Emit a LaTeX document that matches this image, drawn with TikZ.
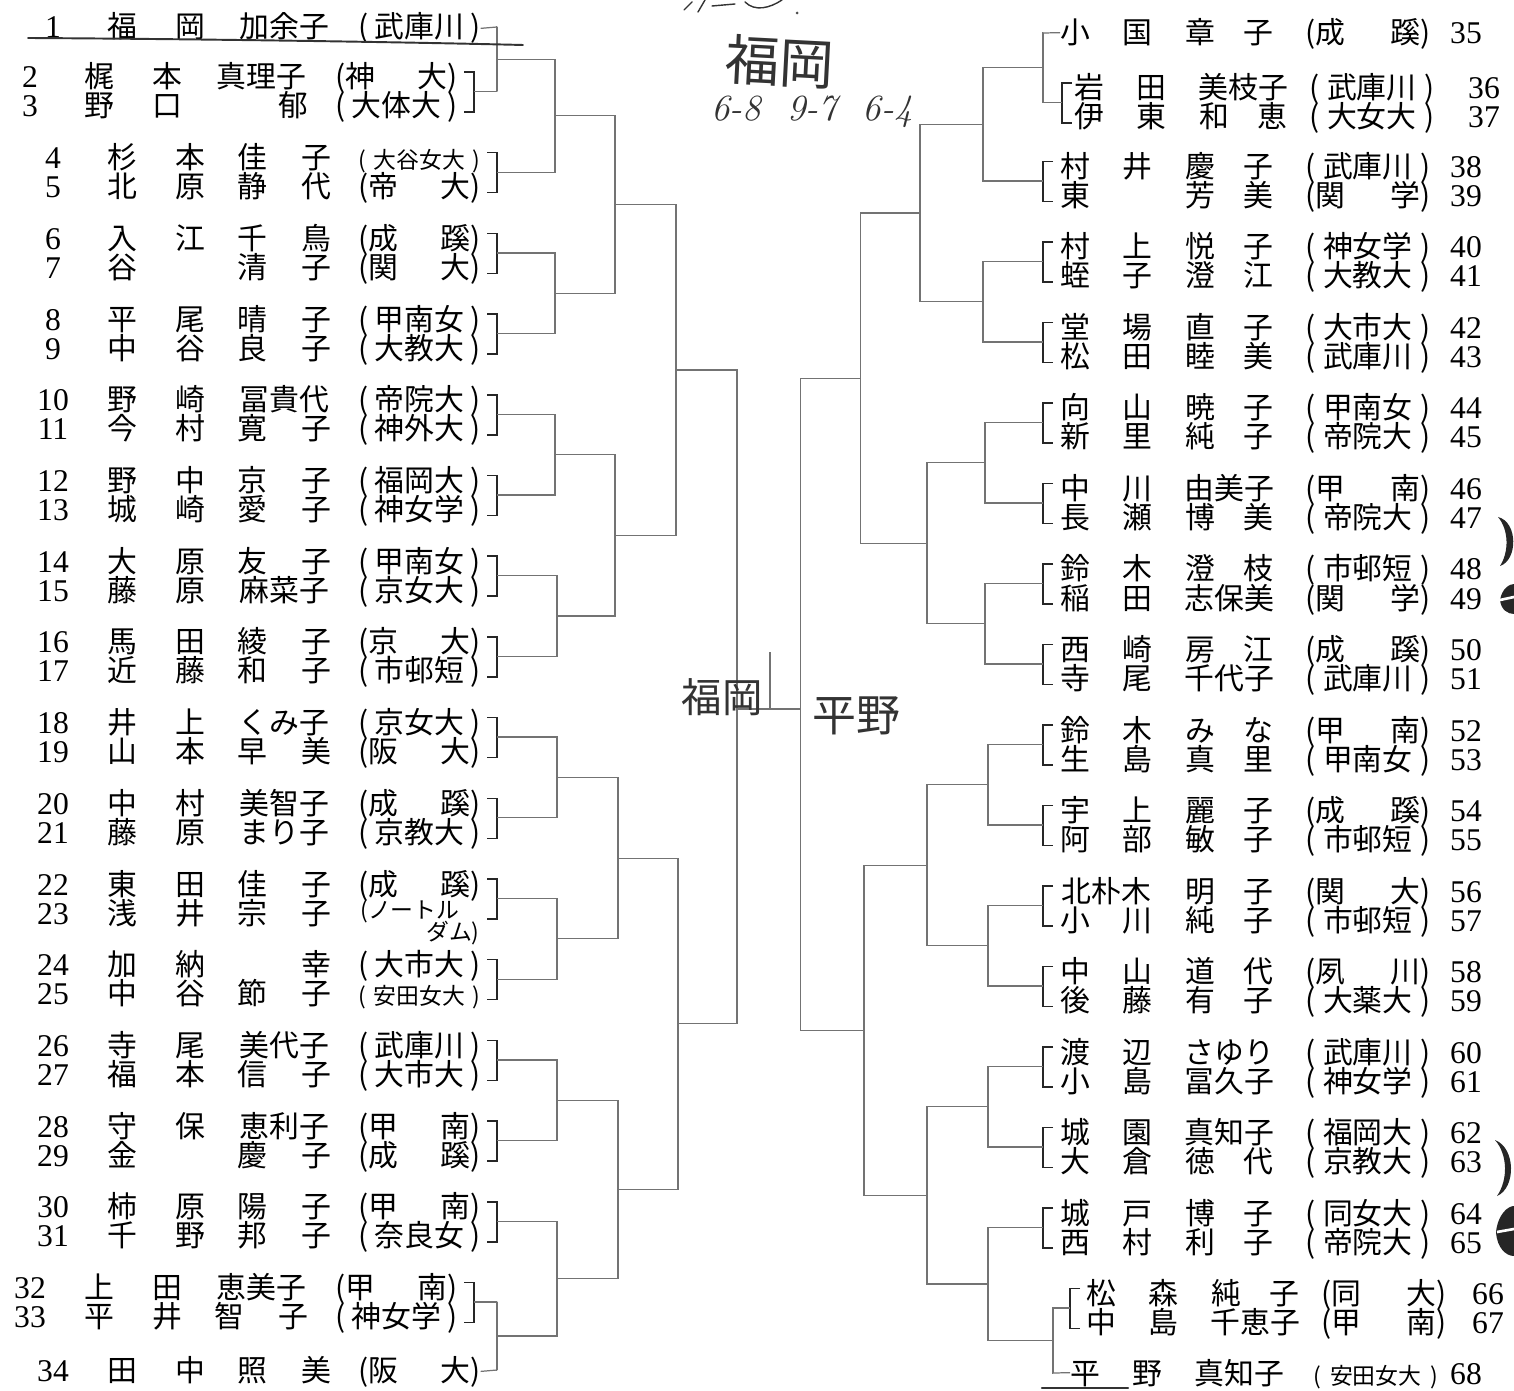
\documentclass[tikz,border=0pt]{standalone}
\usepackage{fontspec}
\newfontfamily\cjk{Noto Sans CJK JP}
\newfontfamily\numfnt{Liberation Serif}
\usetikzlibrary{calc}

\tikzset{
  bline/.style={draw=black!55, line width=0.7pt},
  pbr/.style={draw=black!85, line width=0.9pt},
  pen/.style={draw=black!80, line width=1.1pt, line cap=round},
  namebox/.style={anchor=base west, inner sep=0pt, text=black, font=\cjk\fontsize{17}{20}\selectfont},
  seedno/.style={anchor=base, inner sep=0pt, text=black, font=\numfnt\fontsize{18}{20}\selectfont},
  hand/.style={inner sep=0pt, text=black!80}
}

\newcommand{\smallaff}{\fontsize{13}{14}\selectfont}

% left entry: y, number, surname, given name, school, x shift
\newcommand{\lentry}[6]{%
  \node[seedno] (ln#2) at ({53+(#6)},{#1+11}) {#2};
  \node[namebox] (lnm#2) at ({107+(#6)},{#1+11}) {\makebox[19.6mm]{#3}\hspace{6.4mm}\makebox[18.8mm]{#4}};
  \node[namebox] (laf#2) at ({358+(#6)},{#1+11}) {\makebox[24.4mm]{#5}};
}
% right entry: y, number, surname, given name, school, name/school/number shifts
\newcommand{\rentryx}[8]{%
  \node[namebox] (rnm#2) at ({1060+(#6)},{#1+11}) {\makebox[18.4mm]{#3}\hspace{6.6mm}\makebox[17.6mm]{#4}};
  \node[namebox] (raf#2) at ({1305+(#7)},{#1+11}) {\makebox[25mm]{#5}};
  \node[seedno] (rn#2) at ({1466+(#8)},{#1+11}) {#2};
}
\newcommand{\rentry}[5]{\rentryx{#1}{#2}{#3}{#4}{#5}{0}{0}{0}}
% pair bracket: name, top row y, bracket x, junction x, tick direction
\newcommand{\pairbr}[5]{%
  \coordinate (#1) at (#4,{#2+14.5});
  \draw[pbr] ({#3-10*(#5)},{#2-5}) -| ({#3},{#2+35}) -- ++({-10*(#5)},0);
  \draw[bline] ({#3},{#2+14.5}) -- (#1);
}
% match: new junction, upper, lower, x offset
\newcommand{\tiematch}[4]{%
  \path ($(#2)!0.5!(#3)$) ++(#4,0) coordinate (#1);
  \draw[bline] (#2) -| (#1) |- (#3);
}

\begin{document}
\begin{tikzpicture}[x=0.02cm, y=-0.02cm]
\path[use as bounding box, fill=white] (0,0) rectangle (1514,1391);

% left half
\lentry{27}{1}{福\hfill 岡}{加余子}{(\hfill 武庫川\hfill )}{0}
\lentry{77}{2}{梶\hfill 本}{真理子}{(神\hfill 大)}{-23}
\lentry{106}{3}{野\hfill 口}{\hfill 郁}{(\hfill 大体大\hfill )}{-23}
\lentry{157.7}{4}{杉\hfill 本}{佳\hfill 子}{\smallaff(\hfill 大谷女大\hfill )}{0}
\lentry{186.7}{5}{北\hfill 原}{静\hfill 代}{(帝\hfill 大)}{0}
\lentry{238.4}{6}{入\hfill 江}{千\hfill 鳥}{(成\hfill 蹊)}{0}
\lentry{267.4}{7}{谷\hfill }{清\hfill 子}{(関\hfill 大)}{0}
\lentry{319.1}{8}{平\hfill 尾}{晴\hfill 子}{(\hfill 甲南女\hfill )}{0}
\lentry{348.1}{9}{中\hfill 谷}{良\hfill 子}{(\hfill 大教大\hfill )}{0}
\lentry{399.8}{10}{野\hfill 崎}{冨貴代}{(\hfill 帝院大\hfill )}{0}
\lentry{428.8}{11}{今\hfill 村}{寛\hfill 子}{(\hfill 神外大\hfill )}{0}
\lentry{480.5}{12}{野\hfill 中}{京\hfill 子}{(\hfill 福岡大\hfill )}{0}
\lentry{509.5}{13}{城\hfill 崎}{愛\hfill 子}{(\hfill 神女学\hfill )}{0}
\lentry{561.2}{14}{大\hfill 原}{友\hfill 子}{(\hfill 甲南女\hfill )}{0}
\lentry{590.2}{15}{藤\hfill 原}{麻菜子}{(\hfill 京女大\hfill )}{0}
\lentry{641.9}{16}{馬\hfill 田}{綾\hfill 子}{(京\hfill 大)}{0}
\lentry{670.9}{17}{近\hfill 藤}{和\hfill 子}{(\hfill 市邨短\hfill )}{0}
\lentry{722.6}{18}{井\hfill 上}{くみ子}{(\hfill 京女大\hfill )}{0}
\lentry{751.6}{19}{山\hfill 本}{早\hfill 美}{(阪\hfill 大)}{0}
\lentry{803.3}{20}{中\hfill 村}{美智子}{(成\hfill 蹊)}{0}
\lentry{832.3}{21}{藤\hfill 原}{まり子}{(\hfill 京教大\hfill )}{0}
\lentry{884}{22}{東\hfill 田}{佳\hfill 子}{(成\hfill 蹊)}{0}
\lentry{913}{23}{浅\hfill 井}{宗\hfill 子}{}{0}
\node[namebox, font=\cjk\smallaff] (laf23a) at (360,918) {(ノートル};
\node[namebox, font=\cjk\smallaff, anchor=base east] (laf23b) at (480,940) {ダム)};
\lentry{964.7}{24}{加\hfill 納}{\hfill 幸}{(\hfill 大市大\hfill )}{0}
\lentry{993.7}{25}{中\hfill 谷}{節\hfill 子}{\smallaff(\hfill 安田女大\hfill )}{0}
\lentry{1045.4}{26}{寺\hfill 尾}{美代子}{(\hfill 武庫川\hfill )}{0}
\lentry{1074.4}{27}{福\hfill 本}{信\hfill 子}{(\hfill 大市大\hfill )}{0}
\lentry{1126.1}{28}{守\hfill 保}{恵利子}{(甲\hfill 南)}{0}
\lentry{1155.1}{29}{金\hfill }{慶\hfill 子}{(成\hfill 蹊)}{0}
\lentry{1206.8}{30}{柿\hfill 原}{陽\hfill 子}{(甲\hfill 南)}{0}
\lentry{1235.8}{31}{千\hfill 野}{邦\hfill 子}{(\hfill 奈良女\hfill )}{0}
\lentry{1287.5}{32}{上\hfill 田}{恵美子}{(甲\hfill 南)}{-23}
\lentry{1316.5}{33}{平\hfill 井}{智\hfill 子}{(\hfill 神女学\hfill )}{-23}
\lentry{1370}{34}{田\hfill 中}{照\hfill 美}{(阪\hfill 大)}{0}

% right half
\rentry{33}{35}{小\hfill 国}{章\hfill 子}{(成\hfill 蹊)}
\rentryx{88}{36}{岩\hfill 田}{美枝子}{(\hfill 武庫川\hfill )}{14}{4}{18}
\rentryx{117}{37}{伊\hfill 東}{和\hfill 恵}{(\hfill 大女大\hfill )}{14}{4}{18}
\rentry{166.5}{38}{村\hfill 井}{慶\hfill 子}{(\hfill 武庫川\hfill )}
\rentry{195.5}{39}{東\hfill }{芳\hfill 美}{(関\hfill 学)}
\rentry{247}{40}{村\hfill 上}{悦\hfill 子}{(\hfill 神女学\hfill )}
\rentry{276}{41}{蛭\hfill 子}{澄\hfill 江}{(\hfill 大教大\hfill )}
\rentry{327.5}{42}{堂\hfill 場}{直\hfill 子}{(\hfill 大市大\hfill )}
\rentry{356.5}{43}{松\hfill 田}{睦\hfill 美}{(\hfill 武庫川\hfill )}
\rentry{408}{44}{向\hfill 山}{暁\hfill 子}{(\hfill 甲南女\hfill )}
\rentry{437}{45}{新\hfill 里}{純\hfill 子}{(\hfill 帝院大\hfill )}
\rentry{488.5}{46}{中\hfill 川}{由美子}{(甲\hfill 南)}
\rentry{517.5}{47}{長\hfill 瀬}{博\hfill 美}{(\hfill 帝院大\hfill )}
\rentry{569}{48}{鈴\hfill 木}{澄\hfill 枝}{(\hfill 市邨短\hfill )}
\rentry{598}{49}{稲\hfill 田}{志保美}{(関\hfill 学)}
\rentry{649.5}{50}{西\hfill 崎}{房\hfill 江}{(成\hfill 蹊)}
\rentry{678.5}{51}{寺\hfill 尾}{千代子}{(\hfill 武庫川\hfill )}
\rentry{730}{52}{鈴\hfill 木}{み\hfill な}{(甲\hfill 南)}
\rentry{759}{53}{生\hfill 島}{真\hfill 里}{(\hfill 甲南女\hfill )}
\rentry{810.5}{54}{宇\hfill 上}{麗\hfill 子}{(成\hfill 蹊)}
\rentry{839.5}{55}{阿\hfill 部}{敏\hfill 子}{(\hfill 市邨短\hfill )}
\rentry{891}{56}{北朴木}{明\hfill 子}{(関\hfill 大)}
\rentry{920}{57}{小\hfill 川}{純\hfill 子}{(\hfill 市邨短\hfill )}
\rentry{971.5}{58}{中\hfill 山}{道\hfill 代}{(夙\hfill 川)}
\rentry{1000.5}{59}{後\hfill 藤}{有\hfill 子}{(\hfill 大薬大\hfill )}
\rentry{1052}{60}{渡\hfill 辺}{さゆり}{(\hfill 武庫川\hfill )}
\rentry{1081}{61}{小\hfill 島}{冨久子}{(\hfill 神女学\hfill )}
\rentry{1132.5}{62}{城\hfill 園}{真知子}{(\hfill 福岡大\hfill )}
\rentry{1161.5}{63}{大\hfill 倉}{徳\hfill 代}{(\hfill 京教大\hfill )}
\rentry{1213}{64}{城\hfill 戸}{博\hfill 子}{(\hfill 同女大\hfill )}
\rentry{1242}{65}{西\hfill 村}{利\hfill 子}{(\hfill 帝院大\hfill )}
\rentryx{1293.5}{66}{松\hfill 森}{純\hfill 子}{(同\hfill 大)}{26}{16}{22}
\rentryx{1322.5}{67}{中\hfill 島}{千恵子}{(甲\hfill 南)}{26}{16}{22}
\rentryx{1373}{68}{平\hfill 野}{真知子}{\smallaff(\hfill 安田女大\hfill )}{10}{8}{0}

% first round brackets
\foreach \pk/\ty/\bx in {1/77/474,2/157.7/497,3/238.4/497,4/319.1/497,5/399.8/497,
    6/480.5/497,7/561.2/497,8/641.9/497,9/722.6/497,10/803.3/497,11/884/497,
    12/964.7/497,13/1045.4/497,14/1126.1/497,15/1206.8/497,16/1287.5/474}
  {\pairbr{lp\pk}{\ty}{\bx}{497}{1}}
\foreach \pk/\ty/\bx/\jx in {1/88/1062/1043,2/166.5/1043/1043,3/247/1043/1043,
    4/327.5/1043/1043,5/408/1043/1043,6/488.5/1043/1043,7/569/1043/1043,
    8/649.5/1043/1043,9/730/1043/1043,10/810.5/1043/1043,11/891/1043/1043,
    12/971.5/1043/1043,13/1052/1043/1043,14/1132.5/1043/1043,15/1213/1043/1043,
    16/1293.5/1070/1053}
  {\pairbr{rp\pk}{\ty}{\bx}{\jx}{-1}}

% players with a bye
\coordinate (lone1) at (497,27);
\coordinate (lone34) at (497,1370);
\coordinate (rone35) at (1043,33);
\coordinate (rone68) at (1053,1373);
\draw[bline] (laf1.east) -- (lone1);
\draw[bline] (laf34.east) -- (lone34);
\draw[bline] (rnm35.west) -- (rone35);
\draw[bline] (rnm68.west) -- (rone68);

% left draw
\tiematch{lq1}{lone1}{lp1}{0}
\tiematch{la1}{lq1}{lp2}{58}
\tiematch{la2}{lp3}{lp4}{58}
\tiematch{lb1}{la1}{la2}{60}
\tiematch{la3}{lp5}{lp6}{58}
\tiematch{la4}{lp7}{lp8}{60}
\tiematch{lb2}{la3}{la4}{59}
\tiematch{lc1}{lb1}{lb2}{61}
\tiematch{la5}{lp9}{lp10}{60}
\tiematch{la6}{lp11}{lp12}{60}
\tiematch{lb3}{la5}{la6}{61}
\tiematch{la7}{lp13}{lp14}{60}
\tiematch{lq16}{lp16}{lone34}{0}
\tiematch{la8}{lp15}{lq16}{60}
\tiematch{lb4}{la7}{la8}{61}
\tiematch{lc2}{lb3}{lb4}{60}
\tiematch{ld}{lc1}{lc2}{60}

% right draw
\tiematch{rq1}{rone35}{rp1}{0}
\tiematch{ra1}{rq1}{rp2}{-60}
\tiematch{ra2}{rp3}{rp4}{-60}
\tiematch{rb1}{ra1}{ra2}{-63}
\tiematch{ra3}{rp5}{rp6}{-58}
\tiematch{ra4}{rp7}{rp8}{-58}
\tiematch{rb2}{ra3}{ra4}{-58}
\tiematch{rc1}{rb1}{rb2}{-63}
\tiematch{ra5}{rp9}{rp10}{-55}
\tiematch{ra6}{rp11}{rp12}{-55}
\tiematch{rb3}{ra5}{ra6}{-61}
\tiematch{ra7}{rp13}{rp14}{-55}
\tiematch{rq16}{rp16}{rone68}{0}
\tiematch{ra8}{rp15}{rq16}{-60}
\tiematch{rb4}{ra7}{ra8}{-61}
\tiematch{rc2}{rb3}{rb4}{-63}
\tiematch{rd}{rc1}{rc2}{-62}

% final
\coordinate (fin) at (770,709);
\coordinate (champ) at (770,652);
\draw[bline] (ld) |- (fin) -| (rd);
\draw[bline] (fin) -- (champ);

% handwriting
\node[hand, font=\cjk\fontsize{31}{34}\selectfont, rotate=-3] (hwwin) at (780,62) {福岡};
\node[hand, font=\itshape\fontsize{21}{24}\selectfont] (hwscore) at (812,112) {6-8\ \ 9-7\ \ 6-4};
\node[hand, font=\cjk\fontsize{23}{26}\selectfont] (hwl) at (722,697) {福岡};
\node[hand, font=\cjk\fontsize{25}{28}\selectfont] (hwr) at (856,716) {平野};
\draw[pen, line width=0.8pt] (684,10) -- (692,2) (698,12) -- (705,0) (712,6) -- (735,4)
  (745,2) .. controls (755,12) and (770,8) .. (782,0);
\fill[black!70] (797,13) circle (1.5);
\draw[pen] (28,38) .. controls (200,39) and (400,42) .. (523,45);
\draw[pen, line width=1.4pt] (1042,1388) -- (1128,1388);

% binder marks on the right edge
\fill[black!85] (1498,517) .. controls (1518,522) and (1518,560) .. (1500,566) .. controls (1509,552) and (1509,530) .. cycle;
\fill[black!85] (1500,600) .. controls (1502,588) and (1510,584) .. (1514,584) -- (1514,614) .. controls (1508,614) and (1501,610) .. cycle;
\fill[black!85] (1495,1140) .. controls (1516,1148) and (1516,1188) .. (1497,1196) .. controls (1508,1180) and (1508,1155) .. cycle;
\fill[black!85] (1496,1232) .. controls (1498,1214) and (1508,1206) .. (1514,1206) -- (1514,1256) .. controls (1506,1256) and (1497,1248) .. cycle;
\draw[white, line width=1.5pt] (1500,600) -- (1514,597) (1497,1232) -- (1514,1229);
\end{tikzpicture}
\end{document}
